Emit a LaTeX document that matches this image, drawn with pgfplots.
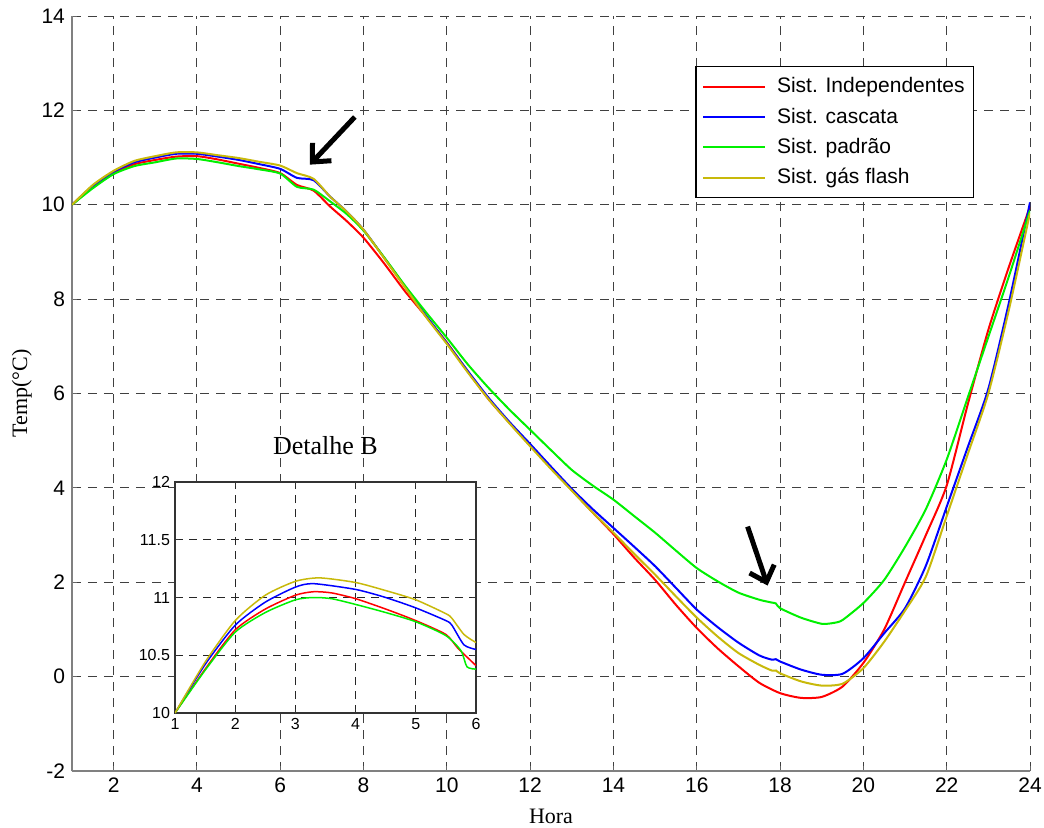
\documentclass[border=0pt]{standalone}
\usepackage{fontspec}
\setmainfont{Liberation Serif}
\setsansfont{Liberation Sans}
\usepackage{pgfplots}
\pgfplotsset{compat=1.18}
\usetikzlibrary{arrows.meta,calc}

\definecolor{cRed}{RGB}{255,0,0}
\definecolor{cBlue}{RGB}{0,0,255}
\definecolor{cGreen}{RGB}{0,240,0}
\definecolor{cYel}{RGB}{200,185,10}

\begin{document}
\begin{tikzpicture}
\begin{axis}[
  name=main,
  scale only axis,
  width=479pt, height=377.5pt,
  xmin=1, xmax=24, ymin=-2, ymax=14,
  xtick={2,4,...,24}, ytick={-2,0,...,14},
  axis x line*=bottom, axis y line*=left,
  axis line style={-, draw=black!50, line width=1pt},
  tick style={draw=black!60, line width=0.5pt},
  tick align=inside, major tick length=2.5pt,
  grid=major,
  major grid style={dash pattern=on 4.5pt off 3.5pt, draw=black!75, line width=0.5pt},
  tick label style={font=\sffamily\fontsize{10.5}{12}\selectfont},
  /pgf/number format/assume math mode=true,
  xlabel={Hora}, ylabel={Temp(°C)},
  label style={font=\fontsize{11}{13}\selectfont},
  xlabel style={yshift=-1pt},
  ylabel style={yshift=-2pt},
  legend cell align=left,
  legend style={at={(axis cs:22.66,12.94)}, anchor=north east,
    draw=black, line width=0.6pt, fill=white,
    font=\sffamily\fontsize{10.5}{12}\selectfont,
    row sep=3pt, column sep=4pt, inner xsep=3pt, inner ysep=4pt,
    nodes={inner sep=1.5pt}},
  legend image code/.code={\draw[#1, line width=1pt] (5pt,0pt) -- (36pt,0pt);},
  every axis plot/.append style={line width=1pt, smooth, tension=0.4},
]
% Sist. Independentes
\addplot[cRed] coordinates {
(1,10) (1.5,10.38) (2,10.68) (2.5,10.86) (3,10.95) (3.5,11.02) (4,11.03)
(4.5,10.96) (5,10.87) (5.5,10.78) (6,10.67) (6.4,10.42) (6.8,10.30)
(7.2,9.96) (7.6,9.65) (8,9.30) (8.5,8.75) (9,8.16) (9.5,7.63) (10,7.08)
(10.5,6.47) (11,5.88) (11.5,5.38) (12,4.90) (12.5,4.43) (13,3.95)
(13.5,3.48) (14,3.02) (14.5,2.52) (15,2.05) (15.5,1.52) (16,1.03)
(16.5,0.60) (17,0.22) (17.5,-0.13) (18,-0.35) (18.5,-0.45) (19,-0.43)
(19.5,-0.21) (20,0.29) (20.5,1.0) (21,2.0) (21.5,3.0) (22,4.05)
(22.5,5.75) (23,7.35) (23.5,8.7) (24,9.96)};
\addlegendentry{Sist. Independentes}
% Sist. cascata
\addplot[cBlue] coordinates {
(1,10) (1.5,10.40) (2,10.70) (2.5,10.90) (3,11.00) (3.5,11.08) (4,11.08)
(4.5,11.02) (5,10.95) (5.5,10.86) (6,10.76) (6.4,10.57) (6.8,10.52)
(7.2,10.17) (7.6,9.85) (8,9.47) (8.5,8.87) (9,8.26) (9.5,7.65) (10,7.07)
(10.5,6.48) (11,5.91) (11.5,5.40) (12,4.93) (12.5,4.45) (13,3.98)
(13.5,3.55) (14,3.15) (14.5,2.75) (15,2.34) (15.5,1.88) (16,1.42)
(16.5,1.05) (17,0.72) (17.5,0.45) (17.8,0.36) (17.9,0.37) (18,0.32)
(18.5,0.15) (19,0.04) (19.5,0.06) (20,0.39) (20.5,0.92) (21,1.45)
(21.5,2.35) (22,3.6) (22.5,4.85) (23,6.1) (23.5,7.95) (24,10.05)};
\addlegendentry{Sist. cascata}
% Sist. padrão
\addplot[cGreen] coordinates {
(1,10) (1.5,10.35) (2,10.65) (2.5,10.82) (3,10.90) (3.5,10.98) (4,10.97)
(4.5,10.90) (5,10.82) (5.5,10.75) (6,10.66) (6.4,10.38) (6.8,10.32)
(7.2,10.07) (7.6,9.80) (8,9.45) (8.5,8.88) (9,8.28) (9.5,7.72) (10,7.18)
(10.5,6.62) (11,6.12) (11.5,5.66) (12,5.23) (12.5,4.80) (13,4.38)
(13.5,4.05) (14,3.75) (14.5,3.40) (15,3.05) (15.5,2.67) (16,2.30)
(16.5,2.02) (17,1.78) (17.5,1.63) (17.8,1.57) (17.9,1.55) (18,1.45)
(18.5,1.25) (19,1.12) (19.3,1.14) (19.5,1.20) (20,1.56) (20.5,2.05)
(21,2.75) (21.5,3.55) (22,4.6) (22.5,5.9) (23,7.2) (23.5,8.5) (24,9.88)};
\addlegendentry{Sist. padrão}
% Sist. gás flash
\addplot[cYel] coordinates {
(1,10) (1.5,10.42) (2,10.72) (2.5,10.93) (3,11.03) (3.5,11.11) (4,11.11)
(4.5,11.05) (5,10.99) (5.5,10.91) (6,10.83) (6.4,10.67) (6.8,10.55)
(7.2,10.17) (7.6,9.85) (8,9.47) (8.5,8.86) (9,8.24) (9.5,7.62) (10,7.05)
(10.5,6.45) (11,5.88) (11.5,5.37) (12,4.88) (12.5,4.40) (13,3.94)
(13.5,3.48) (14,3.05) (14.5,2.60) (15,2.16) (15.5,1.70) (16,1.25)
(16.5,0.85) (17,0.50) (17.5,0.25) (17.8,0.13) (17.9,0.13) (18,0.07)
(18.5,-0.10) (19,-0.19) (19.5,-0.15) (20,0.18) (20.5,0.74) (21,1.40)
(21.5,2.12) (22,3.4) (22.5,4.7) (23,6.0) (23.5,7.8) (24,9.83)};
\addlegendentry{Sist. gás flash}
% pointer arrows
\draw[black, line width=2.5pt, -{Straight Barb[length=7pt,width=13pt]}]
  (axis cs:7.79,11.86) -- (axis cs:6.71,10.85);
\draw[black, line width=2.5pt, -{Straight Barb[length=7pt,width=13pt]}]
  (axis cs:17.22,3.18) -- (axis cs:17.7,1.93);
\end{axis}

% Detalhe B
\begin{axis}[
  at={($(main.south west)+(51.5pt,29pt)$)}, anchor=south west,
  scale only axis,
  width=150.5pt, height=115.5pt,
  xmin=1, xmax=6, ymin=10, ymax=12,
  xtick={1,...,6}, ytick={10,10.5,...,12},
  axis background/.style={fill=white},
  axis line style={draw=black!80, line width=0.6pt},
  tick style={draw=black!80, line width=0.4pt},
  tick align=inside, major tick length=2pt,
  grid=major,
  major grid style={dash pattern=on 4pt off 3pt, draw=black!85, line width=0.5pt},
  tick label style={font=\sffamily\fontsize{8}{9}\selectfont},
  /pgf/number format/assume math mode=true,
  xticklabel style={yshift=1pt},
  yticklabel style={xshift=1pt},
  title={Detalhe B},
  title style={font=\fontsize{13}{15}\selectfont, at={(0.5,1)}, anchor=base, yshift=8pt},
  every axis plot/.append style={line width=0.75pt, smooth, tension=0.4},
]
\addplot[cRed] coordinates {
(1,10) (1.5,10.38) (2,10.72) (2.5,10.90) (3,11.02) (3.3,11.05) (3.6,11.04)
(4,10.99) (4.5,10.90) (5,10.80) (5.5,10.68) (5.7,10.56) (5.9,10.46) (6,10.41)};
\addplot[cBlue] coordinates {
(1,10) (1.5,10.42) (2,10.76) (2.5,10.96) (3,11.09) (3.3,11.12) (4,11.07)
(4.5,11.00) (5,10.91) (5.5,10.80) (5.6,10.76) (5.8,10.59) (6,10.55)};
\addplot[cGreen] coordinates {
(1,10) (1.5,10.37) (2,10.70) (2.5,10.87) (3,10.98) (3.3,11.00) (3.6,10.99)
(4,10.94) (4.5,10.87) (5,10.79) (5.5,10.67) (5.75,10.54) (5.85,10.40) (6,10.38)};
\addplot[cYel] coordinates {
(1,10) (1.5,10.44) (2,10.80) (2.5,11.02) (3,11.14) (3.4,11.17) (4,11.13)
(4.5,11.06) (5,10.98) (5.5,10.86) (5.6,10.82) (5.8,10.68) (6,10.61)};
\end{axis}

\pgfresetboundingbox
\path[use as bounding box]
  ($(main.south west)+(-36pt,-28pt)$) rectangle ($(main.north east)+(7pt,8pt)$);
\end{tikzpicture}
\end{document}
